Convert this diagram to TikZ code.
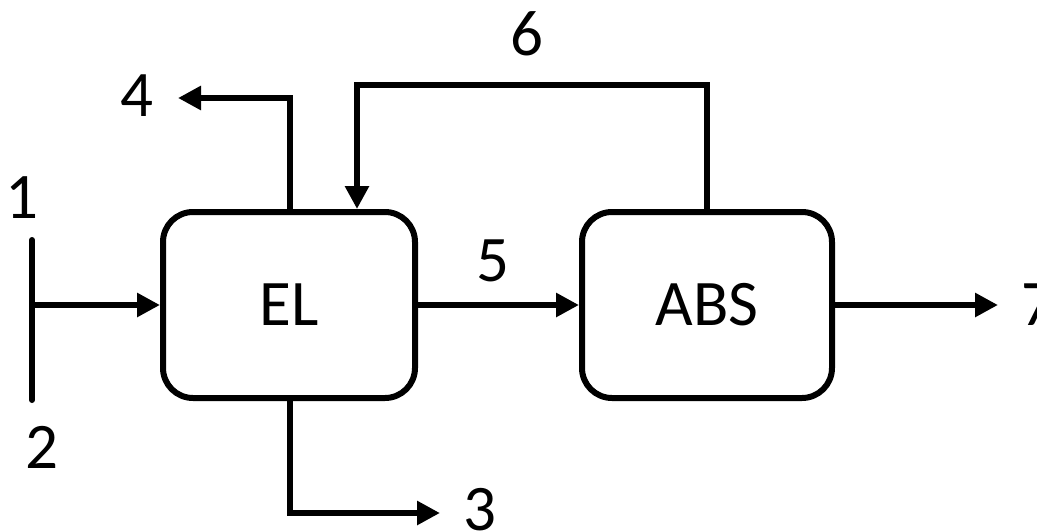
\documentclass[tikz,border=0pt]{standalone}
\usepackage{fontspec}
\setmainfont{Carlito}
\usetikzlibrary{arrows.meta}
\begin{document}
\begin{tikzpicture}[x=1pt,y=-1pt,
  line width=6pt,
  arr/.style={-{Triangle[length=23pt,width=23pt]}},
  blk/.style={draw,rounded corners=30pt,minimum width=252pt,minimum height=186pt,inner sep=0pt,font=\fontsize{65}{78}\selectfont},
  lbl/.style={inner sep=0pt,font=\fontsize{65}{78}\selectfont}]
\useasboundingbox (0,0) rectangle (1037,531);
\node[blk] (EL) at (289,305) {EL};
\node[blk,minimum width=250pt] (ABS) at (707,305) {ABS};
% feed line 1-2
\coordinate (f1) at (32,240);
\coordinate (f2) at (32,400);
\coordinate (fj) at (32,305);
\draw[line cap=round] (f1) -- (f2);
\node[lbl] (l1) at (22,198) {1};
\node[lbl] (l2) at (42,447) {2};
\draw[arr] (fj) -- (EL.west);
% stream 4
\coordinate (t4) at (290,98);
\coordinate (e4) at (178,98);
\draw[arr] (EL.north -| t4) -- (t4) -- (e4);
\node[lbl] (l4) at (137,96) {4};
% stream 6
\coordinate (r6) at (707,85);
\coordinate (c6) at (357,85);
\draw[arr] (ABS.north) -- (r6) -- (c6) -- (EL.north -| c6);
\node[lbl] (l6) at (527,34) {6};
% stream 5
\draw[arr] (EL.east) -- (ABS.west);
\node[lbl] (l5) at (493,261) {5};
% stream 7
\coordinate (e7) at (998,305);
\draw[arr] (ABS.east) -- (e7);
\node[lbl,anchor=west] (l7) at (1018,305) {7};
% stream 3
\coordinate (b3) at (290,513);
\coordinate (e3) at (440,513);
\draw[arr] (EL.south -| b3) -- (b3) -- (e3);
\node[lbl] (l3) at (480,510) {3};
\end{tikzpicture}
\end{document}
